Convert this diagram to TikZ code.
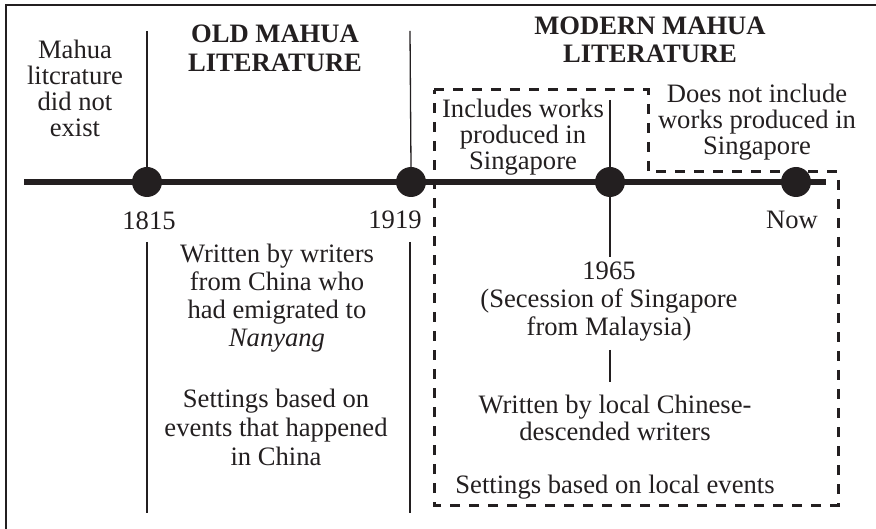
\documentclass[tikz,border=0pt]{standalone}
\usepackage{fontspec}
\setmainfont{Liberation Serif}
\definecolor{ink}{RGB}{35,31,32}
\begin{document}
\begin{tikzpicture}[x=1pt,y=-1pt,
  txt/.style={inner sep=0pt,anchor=base,align=center,text=ink},
  lead26/.style={font=\fontsize{26.6}{26}\selectfont},
  lead27/.style={font=\fontsize{26.6}{27}\selectfont},
  lead28/.style={font=\fontsize{26.6}{28}\selectfont},
  lead29/.style={font=\fontsize{26.6}{29}\selectfont},
  head/.style={font=\fontsize{26.6}{29}\selectfont\bfseries},
  headm/.style={font=\fontsize{26.6}{28}\selectfont\bfseries},
  dot/.style={circle,fill=ink,inner sep=0pt,minimum size=30pt},
  thin/.style={draw=ink,line width=1.3pt},
  frame/.style={draw=ink,line width=2.6pt},
  dashbox/.style={draw=ink,line width=3pt,dash pattern=on 10pt off 9pt}
]
\useasboundingbox (0,0) rectangle (876,529);
% frame (top and left only)
\draw[frame] (876,5) -- (6,5) -- (6,529);
% timeline
\coordinate (tlA) at (24,182);
\coordinate (tlB) at (826,182);
\draw[ink,line width=6pt] (tlA) -- (tlB);
% dots
\node[dot] (d1815) at (147,182) {};
\node[dot] (d1919) at (411,182) {};
\node[dot] (d1965) at (610,182) {};
\node[dot] (dnow) at (796,182) {};
% thin lines
\coordinate (t1815) at (147,31);
\coordinate (t1919) at (410,31);
\coordinate (t1965) at (610,100);
\coordinate (b1815a) at (147,242);
\coordinate (b1815b) at (147,513);
\coordinate (b1919a) at (410,242);
\coordinate (b1919b) at (410,513);
\coordinate (b1965a) at (610,257);
\coordinate (b1965b) at (610,350);
\coordinate (b1965c) at (610,382);
\draw[thin] (t1815) -- (d1815.north);
\draw[thin] (t1919) -- (d1919.north);
\draw[thin] (t1965) -- (d1965.north);
\draw[thin] (b1815a) -- (b1815b);
\draw[thin] (b1919a) -- (b1919b);
\draw[thin] (d1965.south) -- (b1965a);
\draw[thin] (b1965b) -- (b1965c);
% dashed region
\draw[dashbox] (434,90) -- (648,90) -- (648,172) -- (838,172) -- (838,505) -- (434,505) -- cycle;
% texts
\node[txt,lead26] (none) at (75,137) {Mahua\\litcrature\\did not\\exist};
\node[txt,head] (old) at (275,72) {OLD MAHUA\\LITERATURE};
\node[txt,headm] (modern) at (650,63) {MODERN MAHUA\\LITERATURE};
\node[txt,lead26] (incl) at (523,170) {Includes works\\produced in\\Singapore};
\node[txt,lead26] (excl) at (757,155) {Does not include\\works produced in\\Singapore};
\node[txt,lead26] (y1815) at (149,230) {1815};
\node[txt,lead26] (y1919) at (395,229) {1919};
\node[txt,lead26] (ynow) at (792,229) {Now};
\node[txt,lead28] (y1965) at (609,336) {1965\\(Secession of Singapore\\from Malaysia)};
\node[txt,lead28] (oldw) at (277,347) {Written by writers\\from China who\\had emigrated to\\\textit{Nanyang}};
\node[txt,lead29] (olds) at (276,465) {Settings based on\\events that happened\\in China};
\node[txt,lead27] (modw) at (615,440) {Written by local Chinese-\\descended writers};
\node[txt,lead26] (mods) at (615,493) {Settings based on local events};
\end{tikzpicture}
\end{document}
